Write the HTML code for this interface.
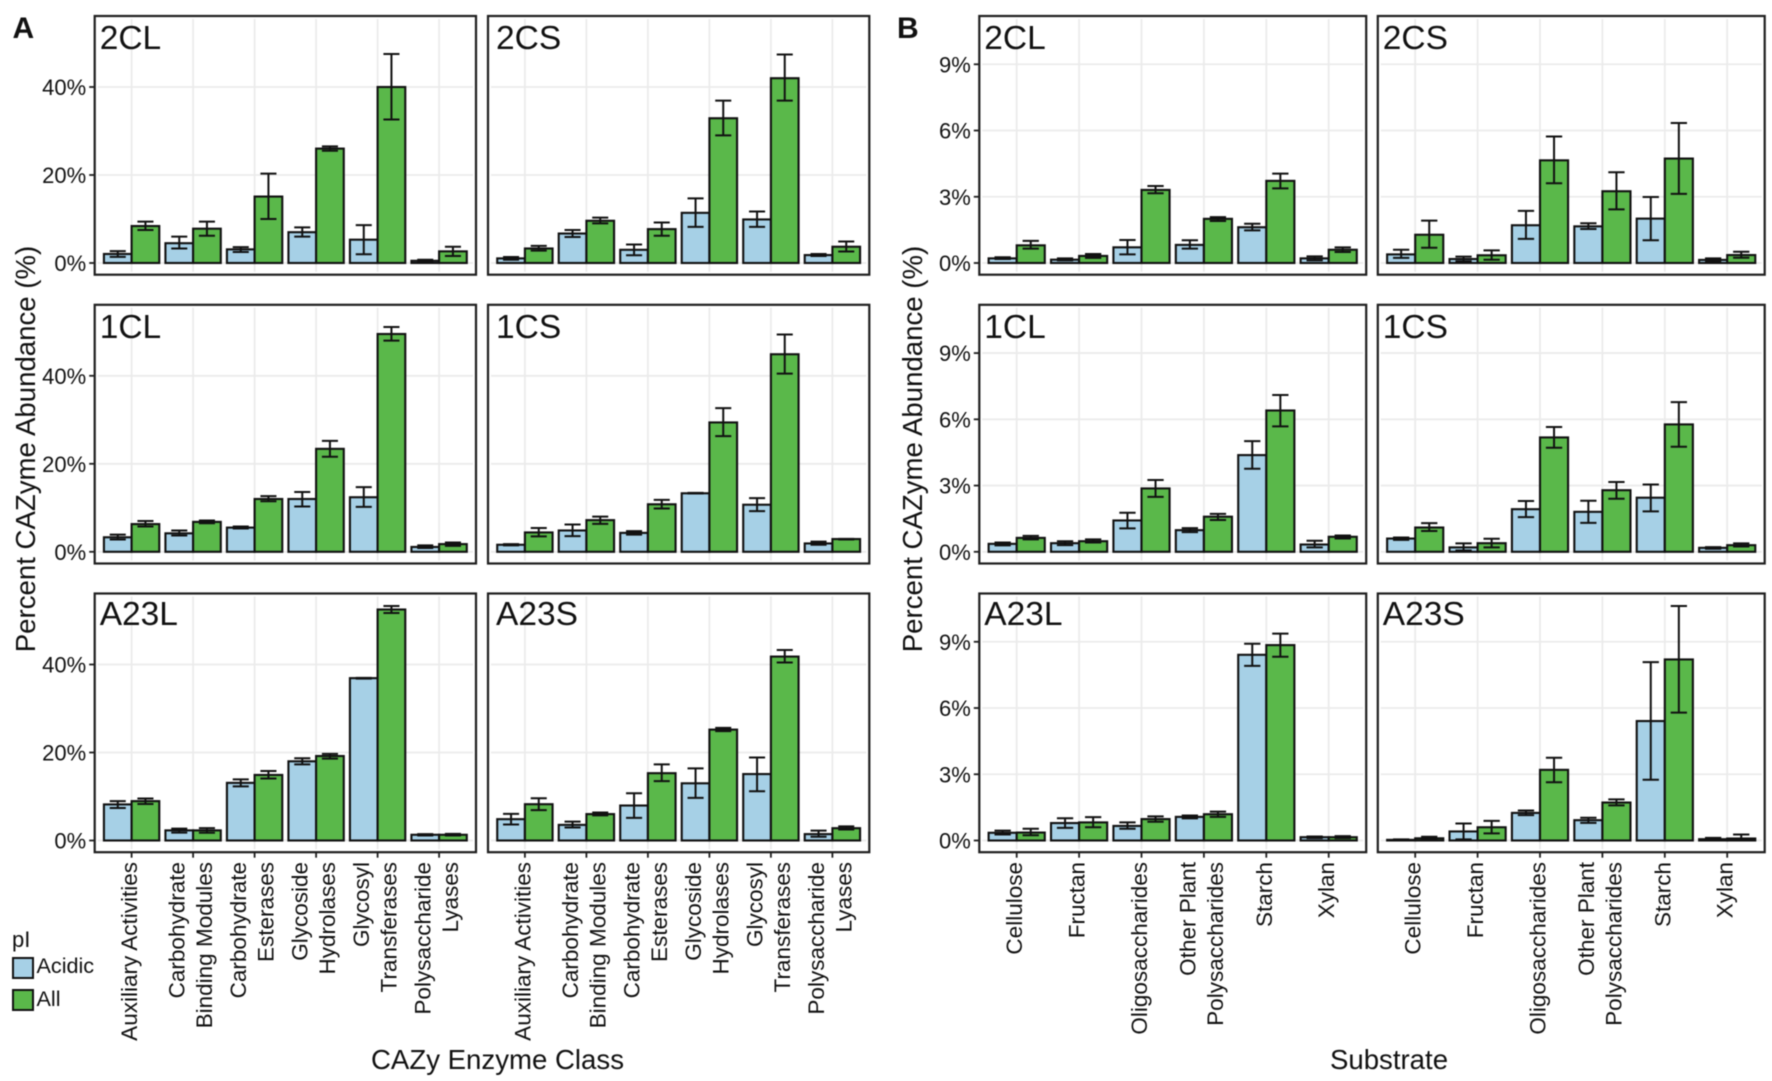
<!DOCTYPE html>
<html lang="en">
<head>
<meta charset="utf-8">
<title>CAZyme abundance by enzyme class and substrate</title>
<style>
html,body{margin:0;padding:0;background:#fff;}
body{width:1772px;height:1081px;overflow:hidden;}
svg{display:block;font-family:"Liberation Sans",Arial,sans-serif;filter:blur(0.45px);}
</style>
</head>
<body>
<svg id="figure" xmlns="http://www.w3.org/2000/svg" width="1772" height="1081" viewBox="0 0 1772 1081"></svg>
<script>
// ---------- Categories and tick labels ----------
const enzymeClasses = [["Auxiliary Activities"],["Carbohydrate","Binding Modules"],["Carbohydrate","Esterases"],["Glycoside","Hydrolases"],["Glycosyl","Transferases"],["Polysaccharide","Lyases"]];
const substrates = [["Cellulose"],["Fructan"],["Oligosaccharides"],["Other Plant","Polysaccharides"],["Starch"],["Xylan"]];
const enzymeTicks = [0,20,40];
const substrateTicks = [0,3,6,9];

// ---------- Panel A: enzyme class ----------
const a2CL_acidic=[2.05,4.5,3.1,7.0,5.3,0.5];
const a2CL_acidicHi=[2.7,6.0,3.6,8.1,8.6,0.75];
const a2CL_acidicLo=[1.4,3.3,2.5,6.0,2.0,0.3];
const a2CL_all=[8.4,7.8,15.1,26.0,40.0,2.65];
const a2CL_allHi=[9.4,9.4,20.3,26.5,47.5,3.7];
const a2CL_allLo=[7.5,6.2,10.0,25.5,32.6,1.6];

const a2CS_acidic=[1.05,6.7,3.0,11.4,9.9,1.8];
const a2CS_acidicHi=[1.35,7.5,4.2,14.7,11.7,2.05];
const a2CS_acidicLo=[0.75,5.9,1.75,8.2,8.2,1.6];
const a2CS_all=[3.3,9.6,7.7,32.9,42.0,3.7];
const a2CS_allHi=[3.9,10.3,9.2,36.9,47.4,4.9];
const a2CS_allLo=[2.8,9.0,6.2,29.0,36.9,2.6];

const a1CL_acidic=[3.3,4.2,5.5,12.0,12.4,1.1];
const a1CL_acidicHi=[3.9,4.85,5.75,13.6,14.7,1.45];
const a1CL_acidicLo=[2.8,3.7,5.3,10.3,10.2,0.85];
const a1CL_all=[6.3,6.8,12.0,23.4,49.5,1.75];
const a1CL_allHi=[7.0,7.1,12.65,25.2,51.1,2.1];
const a1CL_allLo=[5.75,6.5,11.5,21.6,48.0,1.35];

const a1CS_acidic=[1.6,4.85,4.3,13.3,10.7,1.9];
const a1CS_acidicHi=[1.75,6.2,4.7,13.4,12.2,2.3];
const a1CS_acidicLo=[1.45,3.55,3.9,13.25,9.25,1.6];
const a1CS_all=[4.4,7.2,10.8,29.4,44.9,2.9];
const a1CS_allHi=[5.4,8.0,11.8,32.65,49.4,2.95];
const a1CS_allLo=[3.5,6.35,9.85,26.3,40.5,2.8];

const aA23L_acidic=[8.2,2.3,13.1,18.0,36.9,1.3];
const aA23L_acidicHi=[8.95,2.7,13.9,18.7,36.95,1.45];
const aA23L_acidicLo=[7.4,1.8,12.3,17.3,36.8,1.15];
const aA23L_all=[8.95,2.3,14.9,19.2,52.5,1.3];
const aA23L_allHi=[9.55,2.8,15.8,19.7,53.3,1.5];
const aA23L_allLo=[8.3,1.75,14.1,18.6,51.7,1.15];

const aA23S_acidic=[4.85,3.55,7.95,13.0,15.1,1.45];
const aA23S_acidicHi=[6.05,4.3,10.75,16.4,18.85,2.25];
const aA23S_acidicLo=[3.65,2.95,5.15,9.7,11.2,0.85];
const aA23S_all=[8.25,6.0,15.3,25.2,41.8,2.8];
const aA23S_allHi=[9.6,6.35,17.3,25.6,43.3,3.2];
const aA23S_allLo=[6.9,5.7,13.5,24.85,40.45,2.5];

// ---------- Panel B: substrate ----------
const b2CL_acidic=[0.21,0.15,0.71,0.82,1.62,0.21];
const b2CL_acidicHi=[0.26,0.21,1.04,1.03,1.78,0.30];
const b2CL_acidicLo=[0.18,0.12,0.39,0.65,1.48,0.12];
const b2CL_all=[0.80,0.32,3.31,2.00,3.72,0.60];
const b2CL_allHi=[1.00,0.41,3.49,2.08,4.05,0.71];
const b2CL_allLo=[0.65,0.23,3.16,1.90,3.38,0.50];

const b2CS_acidic=[0.39,0.18,1.71,1.66,2.01,0.14];
const b2CS_acidicHi=[0.60,0.29,2.36,1.80,2.99,0.21];
const b2CS_acidicLo=[0.23,0.08,1.09,1.54,1.03,0.06];
const b2CS_all=[1.28,0.35,4.65,3.25,4.73,0.36];
const b2CS_allHi=[1.92,0.57,5.73,4.11,6.34,0.51];
const b2CS_allLo=[0.69,0.15,3.61,2.43,3.13,0.24];

const b1CL_acidic=[0.36,0.39,1.42,0.98,4.38,0.33];
const b1CL_acidicHi=[0.42,0.48,1.77,1.07,5.01,0.50];
const b1CL_acidicLo=[0.29,0.30,1.06,0.89,3.76,0.20];
const b1CL_all=[0.63,0.48,2.87,1.59,6.40,0.68];
const b1CL_allHi=[0.72,0.56,3.25,1.72,7.10,0.74];
const b1CL_allLo=[0.56,0.42,2.49,1.44,5.68,0.60];

const b1CS_acidic=[0.60,0.20,1.93,1.81,2.45,0.18];
const b1CS_acidicHi=[0.65,0.38,2.30,2.31,3.05,0.21];
const b1CS_acidicLo=[0.54,0.06,1.57,1.31,1.83,0.14];
const b1CS_all=[1.10,0.39,5.18,2.79,5.77,0.30];
const b1CS_allHi=[1.30,0.59,5.65,3.16,6.78,0.38];
const b1CS_allLo=[0.94,0.20,4.71,2.40,4.76,0.24];

const bA23L_acidic=[0.35,0.79,0.66,1.07,8.41,0.15];
const bA23L_acidicHi=[0.45,1.01,0.82,1.13,8.91,0.18];
const bA23L_acidicLo=[0.27,0.57,0.53,1.00,7.91,0.11];
const bA23L_all=[0.36,0.82,0.97,1.19,8.85,0.15];
const bA23L_allHi=[0.53,1.06,1.09,1.31,9.37,0.20];
const bA23L_allLo=[0.24,0.60,0.85,1.07,8.32,0.11];

const bA23S_acidic=[0.03,0.41,1.25,0.92,5.41,0.06];
const bA23S_acidicHi=[0.05,0.77,1.36,1.03,8.08,0.12];
const bA23S_acidicLo=[0.02,0.05,1.15,0.80,2.75,0.02];
const bA23S_all=[0.10,0.60,3.20,1.72,8.20,0.09];
const bA23S_allHi=[0.17,0.89,3.75,1.86,10.62,0.27];
const bA23S_allLo=[0.03,0.32,2.64,1.59,5.79,0.02];

// ---------- Layout ----------
const svg = document.getElementById('figure');
const NS = 'http://www.w3.org/2000/svg';
const ACIDIC = '#a6d0e6', ALL = '#5ab84a', INK = '#111111', FRAME = '#1f1f1f', GRID = '#ebebeb';
const ROW_TOP = [16, 304.8, 593.5];
const ROW_H = 258.7, ZERO_OFFSET = 247;

function make(parent, tag, attrs, text) {
  const e = document.createElementNS(NS, tag);
  for (const k in attrs) e.setAttribute(k, attrs[k]);
  if (text !== undefined) e.textContent = text;
  parent.appendChild(e);
  return e;
}

function drawSeries(parent, cfg, xPos, yPos, vals, side, fill, seriesName) {
  const barW = cfg.step * 0.45;
  vals.forEach(function (v, i) {
    const c = xPos(i);
    const x0 = side === 0 ? c - barW : c;
    const bar = make(parent, 'rect', {x: x0, y: yPos(v), width: barW, height: yPos(0) - yPos(v), fill: fill, stroke: INK, 'stroke-width': 2.1, 'stroke-linejoin': 'miter'});
    
    
  });
}

function drawErrors(parent, cfg, xPos, yPos, hi, lo, side, seriesName) {
  const barW = cfg.step * 0.45, capW = barW * 0.58;
  hi.forEach(function (h, i) {
    const c = xPos(i) + (side === 0 ? -barW / 2 : barW / 2);
    const yh = yPos(h), yl = yPos(lo[i]);
    const g = make(parent, 'path', {d: 'M' + (c - capW / 2) + ' ' + yh + 'H' + (c + capW / 2) + 'M' + c + ' ' + yh + 'V' + yl + 'M' + (c - capW / 2) + ' ' + yl + 'H' + (c + capW / 2), fill: 'none', stroke: INK, 'stroke-width': 2});
    
    
  });
}

function drawPanel(cfg) {
  const g = make(svg, 'g', {});
  
  
  const top = ROW_TOP[cfg.row], bottom = top + ROW_H, zero = top + ZERO_OFFSET;
  const right = cfg.left + cfg.width;
  const xPos = function (i) { return cfg.left + cfg.offset + i * cfg.step; };
  const yPos = function (v) { return zero - v * cfg.scale; };

  cfg.ticks.forEach(function (t) {
    const line = make(g, 'line', {x1: cfg.left + 3, x2: right - 3, y1: yPos(t), y2: yPos(t), stroke: GRID, 'stroke-width': 1.8});
    
    
  });
  cfg.cats.forEach(function (c, i) {
    const line = make(g, 'line', {x1: xPos(i), x2: xPos(i), y1: top + 3, y2: bottom - 3, stroke: GRID, 'stroke-width': 1.8});
    
    
  });

  drawSeries(g, cfg, xPos, yPos, cfg.acidic, 0, ACIDIC, 'acidic');
  drawSeries(g, cfg, xPos, yPos, cfg.all, 1, ALL, 'all');
  drawErrors(g, cfg, xPos, yPos, cfg.acidicHi, cfg.acidicLo, 0, 'acidic');
  drawErrors(g, cfg, xPos, yPos, cfg.allHi, cfg.allLo, 1, 'all');

  const frame = make(g, 'rect', {x: cfg.left, y: top, width: cfg.width, height: ROW_H, fill: 'none', stroke: FRAME, 'stroke-width': 2.2});
  
  

  const titleDx = (cfg.left === 488) ? 8 : 5;
  const titleDy = (cfg.row === 2) ? 31.5 : 33;
  const title = make(g, 'text', {x: cfg.left + titleDx, y: top + titleDy, 'font-size': 33.5, fill: '#111'}, cfg.label);
  
  

  if (cfg.showY) {
    cfg.ticks.forEach(function (t) {
      const tick = make(g, 'line', {x1: cfg.left - 5.5, x2: cfg.left, y1: yPos(t), y2: yPos(t), stroke: FRAME, 'stroke-width': 1.8});
      
      
      const lab = make(g, 'text', {x: cfg.left - 8.5, y: yPos(t) + 8, 'font-size': 22, 'text-anchor': 'end', fill: '#111'}, t + '%');
      
      
    });
  }

  if (cfg.row === 2) {
    cfg.cats.forEach(function (lines, i) {
      const c = xPos(i);
      const tick = make(g, 'line', {x1: c, x2: c, y1: bottom, y2: bottom + 5.5, stroke: FRAME, 'stroke-width': 1.8});
      
      
      const offs = lines.length === 1 ? [5.5] : [-8.5, 19];
      lines.forEach(function (s, j) {
        const bx = c + offs[j];
        const lab = make(g, 'text', {transform: 'translate(' + bx + ',862) rotate(-90)', 'font-size': 22.5, 'text-anchor': 'end', fill: '#111'}, s);
        
        
      });
    });
  }
}

const GROUP_A = {cats: enzymeClasses, ticks: enzymeTicks, scale: 4.4, step: 61.5, offset: 36.9, width: 381.3};
const GROUP_B = {cats: substrates, ticks: substrateTicks, scale: 22.08, step: 62.4, offset: 37.4, width: 386.9};

const panelList = [
  [GROUP_A,'A-2CL','2CL',0,94.7,true,a2CL_acidic,a2CL_acidicHi,a2CL_acidicLo,a2CL_all,a2CL_allHi,a2CL_allLo],
  [GROUP_A,'A-2CS','2CS',0,488,false,a2CS_acidic,a2CS_acidicHi,a2CS_acidicLo,a2CS_all,a2CS_allHi,a2CS_allLo],
  [GROUP_A,'A-1CL','1CL',1,94.7,true,a1CL_acidic,a1CL_acidicHi,a1CL_acidicLo,a1CL_all,a1CL_allHi,a1CL_allLo],
  [GROUP_A,'A-1CS','1CS',1,488,false,a1CS_acidic,a1CS_acidicHi,a1CS_acidicLo,a1CS_all,a1CS_allHi,a1CS_allLo],
  [GROUP_A,'A-A23L','A23L',2,94.7,true,aA23L_acidic,aA23L_acidicHi,aA23L_acidicLo,aA23L_all,aA23L_allHi,aA23L_allLo],
  [GROUP_A,'A-A23S','A23S',2,488,false,aA23S_acidic,aA23S_acidicHi,aA23S_acidicLo,aA23S_all,aA23S_allHi,aA23S_allLo],
  [GROUP_B,'B-2CL','2CL',0,979.3,true,b2CL_acidic,b2CL_acidicHi,b2CL_acidicLo,b2CL_all,b2CL_allHi,b2CL_allLo],
  [GROUP_B,'B-2CS','2CS',0,1377.8,false,b2CS_acidic,b2CS_acidicHi,b2CS_acidicLo,b2CS_all,b2CS_allHi,b2CS_allLo],
  [GROUP_B,'B-1CL','1CL',1,979.3,true,b1CL_acidic,b1CL_acidicHi,b1CL_acidicLo,b1CL_all,b1CL_allHi,b1CL_allLo],
  [GROUP_B,'B-1CS','1CS',1,1377.8,false,b1CS_acidic,b1CS_acidicHi,b1CS_acidicLo,b1CS_all,b1CS_allHi,b1CS_allLo],
  [GROUP_B,'B-A23L','A23L',2,979.3,true,bA23L_acidic,bA23L_acidicHi,bA23L_acidicLo,bA23L_all,bA23L_allHi,bA23L_allLo],
  [GROUP_B,'B-A23S','A23S',2,1377.8,false,bA23S_acidic,bA23S_acidicHi,bA23S_acidicLo,bA23S_all,bA23S_allHi,bA23S_allLo]
];

panelList.forEach(function (p) {
  drawPanel(Object.assign({}, p[0], {id: p[1], label: p[2], row: p[3], left: p[4], showY: p[5], acidic: p[6], acidicHi: p[7], acidicLo: p[8], all: p[9], allHi: p[10], allLo: p[11]}));
});

// ---------- Figure-level text ----------
const letterA = make(svg, 'text', {x: 12.5, y: 38, 'font-size': 30, 'font-weight': 'bold', fill: '#111'}, 'A');


const letterB = make(svg, 'text', {x: 897, y: 38, 'font-size': 30, 'font-weight': 'bold', fill: '#111'}, 'B');



const yTitleA = make(svg, 'text', {transform: 'translate(35,449) rotate(-90)', 'font-size': 27.6, 'text-anchor': 'middle', fill: '#111'}, 'Percent CAZyme Abundance (%)');


const yTitleB = make(svg, 'text', {transform: 'translate(922,449) rotate(-90)', 'font-size': 27.6, 'text-anchor': 'middle', fill: '#111'}, 'Percent CAZyme Abundance (%)');



const xTitleA = make(svg, 'text', {x: 497.5, y: 1069, 'font-size': 27.6, 'text-anchor': 'middle', fill: '#111'}, 'CAZy Enzyme Class');


const xTitleB = make(svg, 'text', {x: 1389, y: 1069, 'font-size': 27.6, 'text-anchor': 'middle', fill: '#111'}, 'Substrate');



// ---------- Legend ----------
const legend = make(svg, 'g', {});


const legendTitle = make(legend, 'text', {x: 12, y: 947, 'font-size': 22, fill: '#111'}, 'pI');


const keyAcidic = make(legend, 'rect', {x: 13, y: 958, width: 20, height: 20, fill: ACIDIC, stroke: INK, 'stroke-width': 2});


const labelAcidic = make(legend, 'text', {x: 36.5, y: 973, 'font-size': 21.6, fill: '#111'}, 'Acidic');


const keyAll = make(legend, 'rect', {x: 13, y: 990, width: 20, height: 20, fill: ALL, stroke: INK, 'stroke-width': 2});


const labelAll = make(legend, 'text', {x: 36.5, y: 1006, 'font-size': 21.6, fill: '#111'}, 'All');


</script>
</body>
</html>
